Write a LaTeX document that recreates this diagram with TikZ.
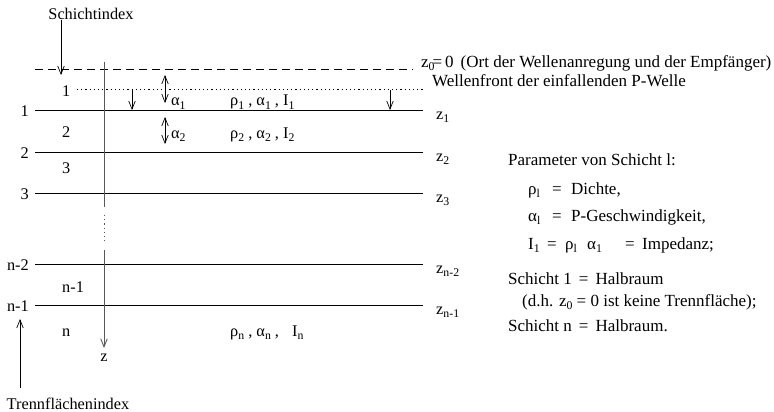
\documentclass[tikz,border=0pt]{standalone}
\usepackage{fontspec}
\setmainfont{Liberation Serif}
\usetikzlibrary{arrows.meta}
\newcommand{\ix}[1]{\raisebox{-0.45ex}{\fontsize{11.8}{12}\selectfont #1}}
\tikzset{
  >={Straight Barb[length=8pt,width=6.5pt]},
  txt/.style={font=\fontsize{16.3}{19}\selectfont,inner sep=0pt},
  rtxt/.style={font=\fontsize{17}{20}\selectfont,inner sep=0pt},
  iface/.style={line width=0.8pt},
  zaxis/.style={line width=0.9pt,black!65},
  ptr/.style={->,line width=0.7pt},
  dptr/.style={<->,line width=0.7pt},
}
\begin{document}
\begin{tikzpicture}[x=1pt,y=-1pt,every node/.style={txt}]
  \useasboundingbox (0,0) rectangle (774,412);
  % Oberflaeche und Wellenfront
  \draw[iface,dash pattern=on 8pt off 5pt] (35,69) -- (413,69);
  \draw[iface,dash pattern=on 1.2pt off 3pt] (77,89) -- (423,89);
  \node[rtxt,anchor=base west] (z0) at (421,67)
    {z\ix{0}\hspace{-2pt}=\hspace{3pt}0\hspace{7pt}(Ort der Wellenanregung und der Empfänger)};
  \node[rtxt,anchor=base west] (wf) at (432,86) {Wellenfront der einfallenden P-Welle};
  % Trennflaechen
  \foreach \y/\lbl in {110/1, 152/2, 193/3, 264/n-2, 305/n-1} {
    \draw[iface] (35,\y) -- (423,\y);
    \node[anchor=base east] (t\lbl) at (29,\y+6) {\lbl};
    \node[anchor=base west] (z\lbl) at (436,\y+9) {z\ix{\lbl}};
  }
  % Schichten
  \foreach \y/\lbl in {96/1, 137/2, 173/3, 292/n-1, 336/n}
    \node[anchor=base west] (s\lbl) at (62,\y) {\lbl};
  % z-Achse
  \coordinate (ztop) at (104,62);
  \coordinate (ztip) at (104,348);
  \draw[zaxis] (ztop) -- (104,207);
  \draw[zaxis,dash pattern=on 1.2pt off 3pt] (104,215) -- (104,242);
  \draw[zaxis,->] (104,250) -- (ztip);
  \node[anchor=base] (zl) at (104,361) {z};
  % Wellenfront-Pfeile
  \foreach \x in {132,390}
    \draw[ptr] (\x,90) -- (\x,110);
  \draw[dptr] (165,75) -- (165,103);
  \draw[dptr] (165,117) -- (165,144);
  \node[anchor=base west] (a1) at (171,106) {α\ix{1}};
  \node[anchor=base west] (a2) at (171,138) {α\ix{2}};
  \node[anchor=base west] (p1) at (230,106) {ρ\ix{1} , α\ix{1} , I\ix{1}};
  \node[anchor=base west] (p2) at (230,138) {ρ\ix{2} , α\ix{2} , I\ix{2}};
  \node[anchor=base west] (pn) at (230,336) {ρ\ix{n} , α\ix{n} ,\hspace{9pt} I\ix{n}};
  % Indizes
  \node[anchor=base] (si) at (91,20) {Schichtindex};
  \coordinate (siend) at (61,75);
  \draw[ptr] (si.south west -| siend) -- (siend);
  \node[anchor=base] (ti) at (68,409) {Trennflächenindex};
  \coordinate (tiend) at (20,319);
  \draw[ptr] ([yshift=9pt]ti.north west -| tiend) -- (tiend);
  % Parameter
  \begin{scope}[every node/.style={rtxt,anchor=base west}]
    \node (par) at (508,165) {Parameter von Schicht l:};
    \node (r1) at (528,194) {ρ\ix{l}};
    \node (r2) at (552,194) {=};
    \node (r3) at (571,194) {Dichte,};
    \node (q1) at (528,221) {α\ix{l}};
    \node (q2) at (552,221) {=};
    \node (q3) at (571,221) {P-Geschwindigkeit,};
    \node (i1) at (528,249) {I\ix{1}};
    \node (i2) at (547,249) {=};
    \node (i3) at (565,249) {ρ\ix{l}};
    \node (i4) at (587,249) {α\ix{1}};
    \node (i5) at (625,249) {=};
    \node (i6) at (642,249) {Impedanz;};
    \node (h1) at (508,284) {Schicht 1\hspace{7pt}=\hspace{7pt}Halbraum};
    \node (h2) at (522,306) {(d.h. z\ix{0} = 0 ist keine Trennfläche);};
    \node (hn) at (508,331) {Schicht n\hspace{7pt}=\hspace{7pt}Halbraum.};
  \end{scope}
\end{tikzpicture}
\end{document}
